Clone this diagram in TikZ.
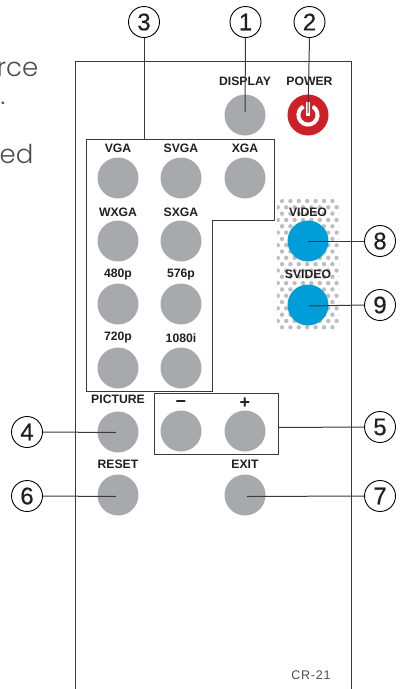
\documentclass[tikz,border=0pt]{standalone}
\usepackage{fontspec}
\setmainfont{Liberation Sans}
\newfontfamily\thinfont{Poppins Light}
\newfontfamily\numfont[FakeBold=0.5]{Liberation Sans}
\newfontfamily\modelfont[LetterSpace=6]{Liberation Sans}
\tikzset{
 btn/.style={circle,fill=btngray,minimum size=41pt,inner sep=0pt},
 blue/.style={circle,fill=btnblue,minimum size=41pt,inner sep=0pt},
 lab/.style={font=\fontsize{12.2pt}{13pt}\selectfont\bfseries,text=labc,inner sep=0pt,anchor=center},
 sign/.style={font=\fontsize{18pt}{18pt}\selectfont\bfseries,text=labc,inner sep=0pt,anchor=center},
 call/.style={circle,draw=black,line width=0.9pt,fill=white,minimum size=31pt,inner sep=0pt,font=\numfont\fontsize{24pt}{24pt}\selectfont,text=labc},
 lead/.style={draw=leadc,line width=1pt},
 frame/.style={draw=leadc,line width=1pt},
 body/.style={font=\thinfont\fontsize{26pt}{26pt}\selectfont,text=bodyc,inner sep=0pt}
}
\definecolor{btngray}{HTML}{A7A9AC}
\definecolor{btnblue}{HTML}{009ED9}
\definecolor{btnred}{HTML}{CE2029}
\definecolor{labc}{HTML}{231F20}
\definecolor{leadc}{HTML}{3A3A3C}
\definecolor{bodyc}{HTML}{4D4D4F}
\definecolor{dotc}{HTML}{BCBEC0}
\begin{document}
\begin{tikzpicture}[x=1pt,y=-1pt]
\useasboundingbox (0,0) rectangle (401,689);
\clip (0,0) rectangle (401,689);
\node[body,anchor=base east] (t1) at (38.5,76) {rce};
\node[body,anchor=base east] (t2) at (5.5,104.5) {.};
\node[body,anchor=base east] (t3) at (33.5,163) {ed};
% remote
\draw[frame] (75.5,695) -- (75.5,61) -- (351.5,61) -- (351.5,695);
% dots
\begin{scope}
\clip[rounded corners=8pt] (277,198.5) rectangle (339,330);
\foreach \r in {0,...,20}{
 \foreach \c in {0,...,8}{
  \pgfmathsetmacro{\xx}{277.8+\c*8.4+mod(\r+1,2)*4.2}
  \pgfmathsetmacro{\yy}{201+\r*6.315}
  \fill[dotc] (\xx,\yy) circle (2.2);
 }}
\end{scope}
% groups
\draw[frame] (86.5,139.5) -- (274.5,139.5) -- (274.5,220) -- (212.5,220) -- (212.5,391.5) -- (86.5,391.5) -- cycle;
\draw[frame] (154.5,393.5) rectangle (278.5,454);
% buttons
\node[btn] (display) at (245,115) {};
\node[circle,fill=btnred,minimum size=41pt,inner sep=0pt] (power) at (308,115) {};
\draw[white,line width=4pt] (308,115) ++(-62:9.6) arc[start angle=-62,end angle=242,radius=9.6];
\draw[btnred,line width=7pt] (308,100) -- (308,117);
\draw[white,line width=3.6pt] (308,102) -- (308,115.5);
\foreach \n/\x/\y in {vga/118/178,svga/181/178,xga/245/178,wxga/118/241,sxga/181/241,p480/118/304,p576/181/304,p720/118/368,i1080/181/368,picture/118/432,minus/181/431,plus/245/431,reset/118/495,exit/245/495}
  \node[btn] (\n) at (\x,\y) {};
\node[blue] (video) at (308,241) {};
\node[blue] (svideo) at (308,305) {};
% labels
\foreach \n/\x/\y/\t in {l1/245/81/DISPLAY,l2/309.5/81/POWER,l3/118/148/VGA,l4/181/148/SVGA,l5/245/148/XGA,l6/118/212/WXGA,l7/181/212/SXGA,l8/118/275/480p,l9/181/275/576p,l10/118/338/720p,l11/181/338/1080i,l12/118/399/PICTURE,l13/118/464/RESET,l14/245/464/EXIT,l15/308/212/VIDEO,l16/308/274/SVIDEO}
  \node[lab] (\n) at (\x,\y) {\t};
\node[sign] (l17) at (181,404) {−};
\node[sign] (l18) at (245,403.5) {+};
% callouts
\node[call] (c1) at (245.5,22) {1};
\node[call] (c2) at (309.5,22) {2};
\node[call] (c3) at (144,22) {3};
\node[call] (c4) at (27,432) {4};
\node[call] (c6) at (27,496) {6};
\node[call] (c5) at (380,427) {5};
\node[call] (c7) at (380,496) {7};
\node[call] (c8) at (380,241) {8};
\node[call] (c9) at (380,305) {9};
\coordinate (e1) at (245,112);
\coordinate (e2) at (308,113);
\coordinate (e3) at (144,139.5);
\coordinate (e4) at (116,432.5);
\coordinate (e6) at (116,496.5);
\coordinate (e5) at (278.5,427.5);
\coordinate (e7) at (247,496.5);
\coordinate (e8) at (308,241);
\coordinate (e9) at (309,306);
\draw[lead] (c1.south) -- (e1);
\draw[lead] (c2.south) -- (e2);
\draw[lead] (c3.south) -- (e3);
\draw[lead] (c4.east) -- (e4);
\draw[lead] (c6.east) -- (e6);
\draw[lead] (c5.west) -- (e5);
\draw[lead] (c7.west) -- (e7);
\draw[lead] (c8.west) -- (e8);
\draw[lead] (c9.west) -- (e9);
\node[inner sep=0pt,font=\modelfont\fontsize{12.5pt}{13pt}\selectfont,text=bodyc] (model) at (311,675) {CR-21};
\end{tikzpicture}
\end{document}
